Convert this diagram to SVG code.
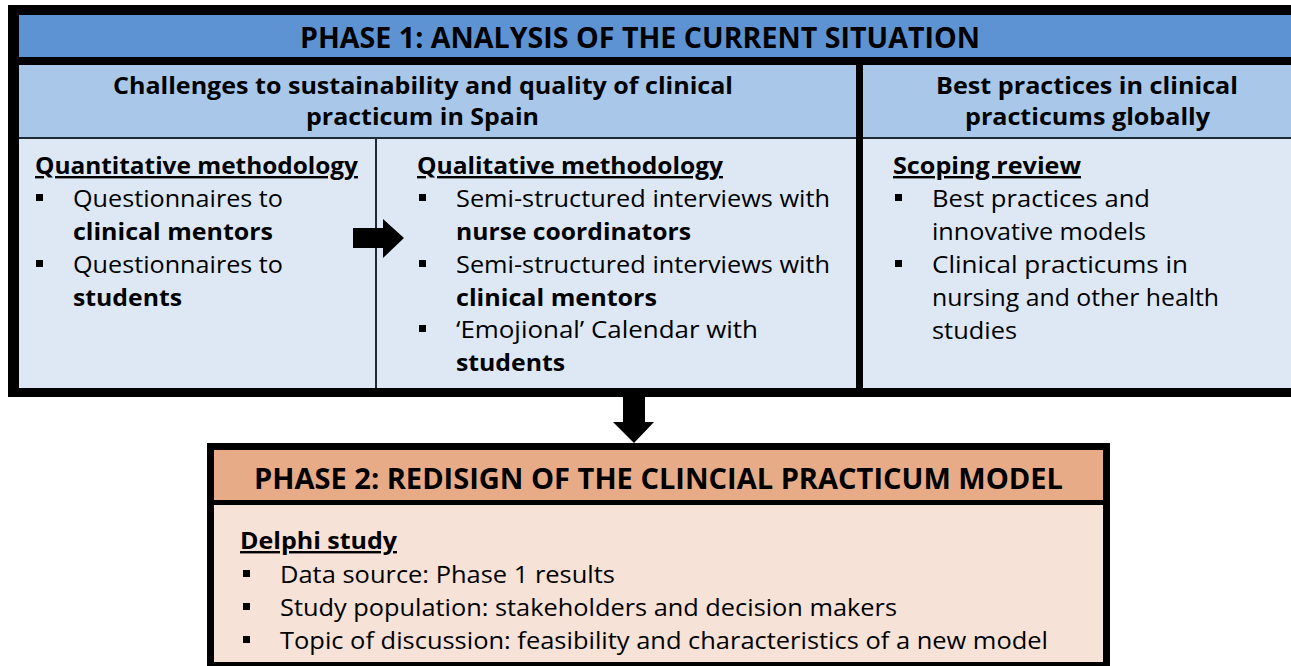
<svg xmlns="http://www.w3.org/2000/svg" width="1291" height="666" viewBox="0 0 1291 666">
<style>
  .hd { font-family: "Open Sans", "Noto Sans", sans-serif; font-weight: 700; font-size: 28px; fill: #000; }
  .sh { font-family: "Open Sans", "Noto Sans", sans-serif; font-weight: 700; font-size: 24px; fill: #000; }
  .t  { font-family: "Open Sans", "Noto Sans", sans-serif; font-weight: 400; font-size: 24px; fill: #000; }
  .b  { font-family: "Open Sans", "Noto Sans", sans-serif; font-weight: 700; font-size: 24px; fill: #000; }
  .u  { text-decoration: underline; }
  .frame { fill: #000; }
  .blue1 { fill: #5E93D3; }
  .blue2 { fill: #A9C8E9; }
  .blue3 { fill: #DEE8F5; }
  .or1 { fill: #E8AB88; }
  .or2 { fill: #F6E2D7; }
  .thin { stroke: #1f2a36; stroke-width: 2; }
  .bul { fill: #000; }
</style>
<rect x="0" y="0" width="1291" height="666" fill="#ffffff"/>

<g id="phase1">
  <rect class="frame" x="8" y="5" width="1290" height="392"/>
  <rect class="blue1" x="19" y="15" width="1272" height="42"/>
  <text class="hd" x="300" y="48" textLength="680" lengthAdjust="spacingAndGlyphs">PHASE 1: ANALYSIS OF THE CURRENT SITUATION</text>
</g>

<g id="challenges">
  <rect class="blue2" x="19" y="65" width="837" height="72"/>
  <text class="sh" x="113" y="94" textLength="620" lengthAdjust="spacingAndGlyphs">Challenges to sustainability and quality of clinical</text>
  <text class="sh" x="306" y="125" textLength="233" lengthAdjust="spacingAndGlyphs">practicum in Spain</text>
</g>

<g id="best-practices">
  <rect class="blue2" x="863" y="65" width="428" height="72"/>
  <text class="sh" x="936" y="94" textLength="302" lengthAdjust="spacingAndGlyphs">Best practices in clinical</text>
  <text class="sh" x="965" y="125" textLength="245" lengthAdjust="spacingAndGlyphs">practicums globally</text>
</g>

<g id="quantitative">
  <rect class="blue3" x="19" y="139" width="356" height="249"/>
  <text class="b u" x="35" y="174" textLength="323" lengthAdjust="spacingAndGlyphs">Quantitative methodology</text>
  <rect class="bul" x="36" y="194" width="7" height="7"/>
  <text class="t" x="73" y="207" textLength="210" lengthAdjust="spacingAndGlyphs">Questionnaires to</text>
  <text class="b" x="73" y="240" textLength="200" lengthAdjust="spacingAndGlyphs">clinical mentors</text>
  <rect class="bul" x="36" y="260" width="7" height="7"/>
  <text class="t" x="73" y="273" textLength="210" lengthAdjust="spacingAndGlyphs">Questionnaires to</text>
  <text class="b" x="73" y="306" textLength="109" lengthAdjust="spacingAndGlyphs">students</text>
</g>

<g id="qualitative">
  <rect class="blue3" x="377" y="139" width="479" height="249"/>
  <text class="b u" x="417" y="174" textLength="306" lengthAdjust="spacingAndGlyphs">Qualitative methodology</text>
  <rect class="bul" x="419" y="194" width="7" height="7"/>
  <text class="t" x="456" y="207" textLength="374" lengthAdjust="spacingAndGlyphs">Semi-structured interviews with</text>
  <text class="b" x="456" y="240" textLength="235" lengthAdjust="spacingAndGlyphs">nurse coordinators</text>
  <rect class="bul" x="419" y="260" width="7" height="7"/>
  <text class="t" x="456" y="273" textLength="374" lengthAdjust="spacingAndGlyphs">Semi-structured interviews with</text>
  <text class="b" x="456" y="306" textLength="201" lengthAdjust="spacingAndGlyphs">clinical mentors</text>
  <rect class="bul" x="419" y="325" width="7" height="7"/>
  <text class="t" x="456" y="338" textLength="302" lengthAdjust="spacingAndGlyphs">‘Emojional’ Calendar with</text>
  <text class="b" x="456" y="371" textLength="109" lengthAdjust="spacingAndGlyphs">students</text>
</g>

<g id="scoping">
  <rect class="blue3" x="863" y="139" width="428" height="249"/>
  <text class="b u" x="893" y="174" textLength="188" lengthAdjust="spacingAndGlyphs">Scoping review</text>
  <rect class="bul" x="895" y="194" width="7" height="7"/>
  <text class="t" x="932" y="207" textLength="218" lengthAdjust="spacingAndGlyphs">Best practices and</text>
  <text class="t" x="932" y="240" textLength="214" lengthAdjust="spacingAndGlyphs">innovative models</text>
  <rect class="bul" x="895" y="260" width="7" height="7"/>
  <text class="t" x="932" y="273" textLength="256" lengthAdjust="spacingAndGlyphs">Clinical practicums in</text>
  <text class="t" x="932" y="306" textLength="287" lengthAdjust="spacingAndGlyphs">nursing and other health</text>
  <text class="t" x="932" y="339" textLength="85" lengthAdjust="spacingAndGlyphs">studies</text>
</g>

<g id="dividers">
  <line class="thin" x1="19" y1="138" x2="856" y2="138"/>
  <line class="thin" x1="863" y1="138" x2="1291" y2="138"/>
  <line class="thin" x1="376" y1="138" x2="376" y2="388"/>
</g>

<g id="phase2">
  <rect class="frame" x="207" y="443" width="903" height="230"/>
  <rect class="or1" x="214" y="450" width="889" height="50"/>
  <text class="hd" x="254" y="489" textLength="809" lengthAdjust="spacingAndGlyphs">PHASE 2: REDISIGN OF THE CLINCIAL PRACTICUM MODEL</text>
  <rect class="or2" x="214" y="505" width="889" height="157"/>
  <text class="b u" x="240" y="549" textLength="157" lengthAdjust="spacingAndGlyphs">Delphi study</text>
  <rect class="bul" x="243" y="570" width="7" height="7"/>
  <text class="t" x="280" y="583" textLength="335" lengthAdjust="spacingAndGlyphs">Data source: Phase 1 results</text>
  <rect class="bul" x="243" y="603" width="7" height="7"/>
  <text class="t" x="280" y="616" textLength="617" lengthAdjust="spacingAndGlyphs">Study population: stakeholders and decision makers</text>
  <rect class="bul" x="243" y="636" width="7" height="7"/>
  <text class="t" x="280" y="649" textLength="768" lengthAdjust="spacingAndGlyphs">Topic of discussion: feasibility and characteristics of a new model</text>
</g>

<g id="connectors">
  <polygon fill="#000" points="353,228 383,228 383,219 404,238 383,258 383,248 353,248"/>
  <polygon fill="#000" points="623,397 645,397 645,422 654,422 634,443 613,422 623,422"/>
</g>
</svg>
